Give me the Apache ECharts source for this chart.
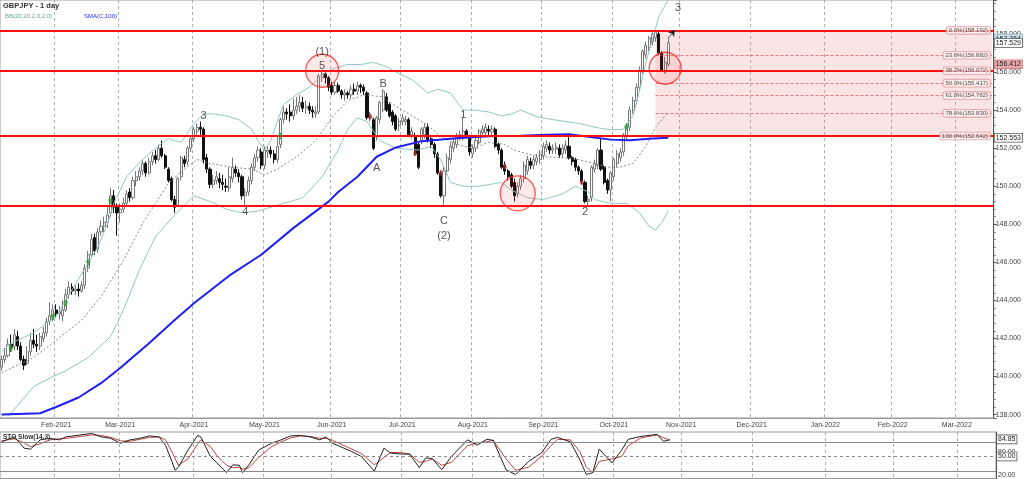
<!DOCTYPE html>
<html><head><meta charset="utf-8">
<script src="https://cdn.jsdelivr.net/npm/echarts/dist/echarts.min.js"></script>
<style>html,body{margin:0;padding:0;background:#fff}#c{width:1024px;height:479px}</style>
</head><body><div id="c"></div>
<script>
// ---------- DATA ----------
const startDate = '2021-01-07';
const categoryCount = 310;

const open = [140.5,140.9,141.1,141.7,141.6,142.1,141.6,140.9,140.7,141.3,141.9,141.7,141.6,142.0,142.3,142.9,143.1,143.5,143.3,143.2,
143.5,144.3,144.7,144.5,144.6,144.5,144.8,145.7,146.4,147.3,146.7,147.6,147.9,148.1,148.6,149.5,148.9,148.6,148.8,149.1,
149.7,149.4,150.3,150.5,150.8,151.2,150.7,151.3,151.6,151.4,152.0,151.6,150.9,150.4,149.3,149.0,150.5,151.4,151.3,152.0,
152.5,152.9,153.1,153.0,151.5,150.9,150.1,150.3,150.4,150.2,150.0,149.9,150.4,150.9,150.7,150.5,149.5,149.7,150.3,151.0,
151.5,151.8,151.1,151.8,151.9,151.7,151.4,152.2,153.5,153.9,153.9,153.7,154.0,154.2,154.4,154.1,154.2,154.0,153.8,153.9,
155.7,155.9,155.7,155.3,154.95,155.3,155.0,154.8,154.9,154.8,155.1,155.0,155.3,155.2,154.9,153.6,153.5,152.6,153.5,154.0,
154.7,154.3,153.9,153.7,153.2,153.4,153.4,153.5,152.7,152.6,152.2,152.4,152.7,153.1,152.5,152.2,151.7,150.7,149.5,150.8,
151.4,152.0,152.2,152.6,152.5,152.9,152.6,151.7,152.0,152.3,152.8,152.8,153.0,152.85,153.0,152.2,151.9,151.1,150.8,150.6,
150.2,149.6,150.0,150.4,150.8,151.3,151.1,151.3,151.4,151.6,152.0,152.1,151.9,151.95,152.0,151.7,151.9,152.1,151.5,151.4,
151.0,150.8,150.2,149.2,149.4,150.9,151.1,151.9,151.0,150.3,149.8,150.5,151.2,151.5,151.8,152.6,153.1,154.0,154.5,155.2,
156.1,156.9,157.3,157.6,157.8,158.0,157.0,156.0,156.412];
const close = [140.9,141.1,141.7,141.5,142.2,141.6,140.9,140.6,141.3,141.9,141.7,141.6,142.1,142.3,142.9,143.2,143.5,143.3,143.4,143.5,
144.3,144.7,144.5,144.6,144.5,144.8,145.7,146.4,147.2,146.6,147.6,147.9,148.1,148.5,149.5,148.9,148.6,148.8,149.1,149.6,
149.4,150.3,150.5,150.8,151.2,150.7,151.3,151.6,151.4,152.0,151.6,151.0,150.3,149.3,148.9,150.4,151.5,151.2,152.0,152.5,
153.0,153.1,153.0,151.4,150.9,150.1,150.3,150.5,150.2,150.1,149.95,150.5,151.0,150.7,150.5,149.5,149.7,150.3,151.0,151.5,
151.9,151.1,151.9,151.9,151.7,151.4,152.1,153.5,153.9,153.8,153.7,154.0,154.2,154.4,154.1,154.2,154.0,153.9,153.9,155.8,
155.9,155.7,155.2,154.95,155.3,155.0,154.8,154.9,154.8,155.1,155.0,155.3,155.2,155.0,153.6,153.7,152.0,153.6,154.4,155.0,
154.0,153.7,153.4,153.0,153.4,153.6,153.5,152.7,152.9,151.7,151.0,153.0,153.1,152.4,152.2,151.7,150.7,149.5,150.8,151.5,
152.1,152.3,152.6,152.7,152.9,152.7,151.8,152.0,152.4,152.9,153.0,153.1,152.9,153.0,152.1,151.9,151.0,150.8,150.5,150.0,
149.5,150.0,150.4,151.1,151.4,151.1,151.4,151.5,151.7,152.1,152.2,151.9,152.0,152.05,151.65,152.0,152.15,151.5,151.3,151.0,
150.8,150.25,149.2,149.3,151.0,151.2,151.9,150.9,150.2,149.8,150.7,151.4,151.7,151.8,152.7,153.1,154.0,154.5,155.2,156.1,
157.1,157.4,157.8,158.0,158.1,157.0,156.1,156.5,157.529];
const low = [140.3,140.7,141.0,141.3,141.4,141.4,140.8,140.35,140.6,141.1,141.5,141.3,141.4,141.8,142.1,142.7,142.9,143.1,143.0,142.9,
143.4,144.1,144.3,144.3,144.2,144.4,144.6,145.5,146.3,146.4,146.5,147.4,147.6,147.8,148.4,148.6,147.4,148.1,148.6,148.9,
149.2,149.3,150.0,150.3,150.6,150.5,150.6,151.1,151.2,151.3,151.5,150.9,150.2,149.2,148.6,148.9,150.3,151.0,151.1,151.8,
152.3,152.7,152.7,151.2,150.7,149.9,149.9,150.1,149.9,149.8,149.7,149.7,150.2,150.5,150.2,149.3,149.0,149.5,150.1,150.8,
151.3,150.9,150.9,151.5,151.5,151.2,151.2,152.0,153.3,153.5,153.4,153.5,153.8,153.9,153.9,153.8,153.8,153.6,153.6,153.8,
155.5,155.4,155.0,154.8,154.8,154.9,154.6,154.5,154.6,154.6,154.8,154.8,154.9,154.8,153.5,153.4,151.9,152.4,153.3,153.9,
153.9,153.6,153.2,152.9,152.9,153.2,153.2,152.6,152.5,151.6,150.9,152.2,152.5,152.3,152.0,151.5,150.6,149.4,149.0,150.6,
151.2,151.8,152.0,152.4,152.4,152.5,151.6,151.5,151.8,152.2,152.6,152.6,152.7,152.7,152.0,151.7,150.9,150.6,150.3,149.9,
149.2,149.4,149.8,150.2,150.6,150.9,150.9,151.1,151.2,151.4,151.8,151.7,151.7,151.7,151.5,151.5,151.7,151.4,151.1,150.8,
150.6,150.1,149.1,149.0,149.2,150.7,150.9,150.8,150.1,149.6,149.2,150.3,151.0,151.3,151.6,152.4,152.9,153.8,154.3,155.0,
155.9,156.7,157.1,157.4,157.6,156.9,156.0,155.9,156.3];
const high = [141.1,141.5,142.0,142.2,142.5,142.4,141.8,141.1,141.6,142.3,142.5,142.2,142.3,142.6,143.1,143.9,143.8,143.8,143.7,144.0,
144.6,145.0,144.9,144.8,144.9,145.0,145.9,146.6,147.5,147.5,147.8,148.2,148.4,148.9,149.9,149.8,149.1,149.1,149.4,149.8,
149.9,150.5,150.8,151.0,151.4,151.3,151.5,151.8,151.9,152.2,152.4,151.7,151.0,150.5,149.5,150.5,151.6,151.6,152.1,152.6,
153.1,153.3,153.4,153.1,151.7,151.0,150.6,150.8,150.7,150.6,150.4,151.0,151.5,151.1,150.9,150.6,149.9,150.5,151.2,151.7,
152.1,152.0,152.1,152.1,152.1,151.9,152.6,153.6,154.2,154.1,154.3,154.6,154.7,154.8,154.7,154.5,154.4,154.2,154.2,155.9,
156.1,156.0,155.8,155.5,155.5,155.45,155.1,155.1,155.0,155.3,155.4,155.5,155.4,155.35,155.0,153.9,153.6,153.7,154.5,155.1,
154.9,154.4,154.0,153.8,153.6,153.8,153.7,153.6,153.1,152.8,152.3,153.1,153.3,153.3,152.6,152.3,151.8,150.8,151.0,151.7,
152.3,152.5,152.8,152.9,153.6,153.0,152.7,152.2,152.6,153.0,153.2,153.3,153.2,153.2,153.1,152.3,152.0,151.3,150.9,150.7,
150.4,150.2,150.6,151.3,151.6,151.5,151.6,151.7,151.9,152.3,152.4,152.3,152.2,152.3,152.2,152.2,152.4,152.7,151.6,151.5,
151.1,150.9,150.3,149.5,151.1,151.4,152.0,152.5,151.1,150.4,150.8,151.5,151.9,152.0,152.8,153.3,154.2,154.7,155.4,156.3,
157.2,157.6,157.9,158.1,158.192,158.1,157.1,156.8,157.764];

// indicators: [candle index, value]
const bbUpper = [[0,141.3],[3,141.75],[10,142.3],[14,142.8],[17,143.15],[20,144.0],[25,145.4],[30,146.8],[33,148.0],[35,149.1],[39,150.5],[44,151.4],[48,152.0],[52,152.5],[56,152.3],[60,153.3],[63,153.8],[66,153.8],[70,153.7],[74,153.5],[78,153.0],[80,152.4],[82,151.9],[84,152.4],[86,153.4],[88,154.3],[92,154.8],[96,155.2],[100,155.9],[104,156.2],[108,156.4],[112,156.4],[116,156.5],[120,156.3],[123,156.0],[128,155.6],[133,154.9],[136,155.1],[140,154.9],[144,154.0],[148,154.0],[152,153.9],[156,153.7],[159,153.8],[162,154.0],[167,153.65],[172,153.5],[176,153.4],[180,153.3],[185,153.1],[190,152.96],[194,153.0],[197,153.7],[199,155.0],[201,156.5],[203,157.7],[205,158.9],[207,159.5],[208,159.8]];
const bbMid = [[0,140.2],[10,141.0],[17,141.9],[25,142.97],[31,144.2],[38,146.1],[44,148.05],[48,149.1],[52,150.15],[57,150.9],[61,151.4],[65,151.2],[72,151.0],[78,150.9],[82,150.6],[86,150.9],[92,151.55],[98,152.4],[103,153.6],[108,154.5],[113,154.8],[119,154.7],[123,154.2],[128,153.7],[133,153.2],[137,152.6],[142,152.2],[147,152.0],[152,152.3],[157,152.2],[160,151.9],[164,151.7],[169,151.55],[175,151.5],[180,151.4],[185,151.2],[189,151.0],[193,151.0],[197,151.2],[201,152.1],[204,153.1],[208,153.9]];
const bbLower = [[2,137.9],[10,139.47],[16,140.0],[20,140.3],[27,141.0],[34,142.1],[38,143.5],[43,145.6],[48,147.35],[54,148.5],[60,149.5],[65,149.2],[70,148.8],[75,148.6],[80,148.7],[86,149.0],[94,149.4],[100,150.5],[105,151.9],[108,153.0],[111,153.6],[114,153.4],[118,152.4],[123,152.0],[130,151.9],[134,152.1],[137,151.4],[140,150.2],[144,150.0],[149,150.0],[156,150.2],[159,149.8],[164,149.4],[169,149.3],[175,149.6],[179,150.0],[183,149.7],[185,149.3],[190,149.1],[195,149.1],[199,148.6],[202,147.9],[204,147.7],[206,148.1],[208,148.7]];
const sma100 = [[0,138.0],[12,138.07],[17,138.4],[24,138.9],[31,139.65],[37,140.45],[46,141.75],[54,142.97],[60,143.85],[71,145.3],[81,146.4],[91,147.8],[102,149.19],[105,149.7],[111,150.5],[117,151.55],[123,152.04],[131,152.37],[139,152.48],[146,152.57],[154,152.64],[162,152.66],[170,152.7],[177,152.73],[183,152.6],[190,152.45],[196,152.42],[202,152.5],[208,152.55]];

const stochK = [[0,80],[4,90],[7,67],[9,65],[12,84],[15,87],[18,84],[20,90],[28,97],[31,90],[34,87],[37,77],[40,84],[43,87],[46,92],[49,90],[51,73],[53,40],[54,22],[55,28],[58,63],[61,93],[62,90],[65,50],[67,37],[70,17],[72,33],[74,32],[75,17],[77,33],[80,63],[84,77],[87,84],[90,92],[93,93],[96,90],[99,84],[101,90],[103,77],[109,60],[112,50],[116,20],[119,67],[121,57],[124,55],[127,55],[130,27],[132,47],[134,46],[137,23],[140,50],[145,84],[148,73],[151,85],[153,83],[157,23],[160,13],[164,40],[168,57],[171,85],[173,89],[177,80],[180,43],[182,13],[184,17],[186,65],[190,37],[193,63],[195,85],[199,91],[204,95],[206,81],[208,84]];
const stochD = [[0,82],[4,86],[7,78],[9,70],[12,76],[15,84],[18,86],[20,87],[28,94],[31,93],[34,89],[37,82],[40,81],[43,85],[46,89],[49,90],[51,84],[53,60],[55,32],[58,45],[61,75],[62,84],[65,70],[67,52],[70,32],[72,27],[74,28],[75,24],[77,27],[80,48],[84,70],[87,80],[90,88],[93,92],[96,91],[99,87],[101,87],[103,83],[109,65],[112,56],[116,33],[119,48],[121,58],[124,58],[127,55],[130,38],[132,40],[134,45],[137,32],[140,38],[145,72],[148,78],[151,80],[153,83],[157,45],[160,22],[164,28],[168,50],[171,72],[173,85],[177,84],[180,60],[182,28],[184,17],[186,40],[190,45],[193,50],[195,72],[199,88],[204,94],[206,88],[208,84]];

const levelLines = [158.192, 156.072, 152.642, 148.98];
const fibLevels = [158.192, 156.882, 156.072, 155.417, 154.762, 153.830, 152.642];
const fibNames = ['0.0%(158.192)','23.6%(156.882)','38.2%(156.072)','50.0%(155.417)','61.8%(154.762)','78.6%(153.830)','100.0%(152.642)'];
const fibStart = 204;

const greenSignals = [[3,141.5],[16,143.15],[20,143.86],[27,146.0],[34,149.24],[87,152.66],[195,153.13]];
const redSignals = [[115,153.65],[129,151.73],[137,150.68],[157,151.03],[181,150.2]];
const circles = [[100,156.07,33],[207,156.2,32],[161,149.63,35]];
const waveLabels = [['(1)',100,157.05],['5',100,156.32],['3',63,153.7],['4',76,148.65],['B',119,155.4],['A',117,150.95],['C',138,148.17],['(2)',138,147.4],['1',144,153.74],['2',182,148.65],['3',211,159.37]];

const priceBoxes = [['157.764',157.764,'#cfe6f2','#8ab'],['157.529',157.529,'#ffffff','#555'],['156.412',156.412,'#eaa9ad','#c77'],['152.553',152.553,'#ffffff','#555']];
const stochBoxes = [['84.85',84.85],['50.00',50]];
const MONTHS = ['Jan','Feb','Mar','Apr','May','Jun','Jul','Aug','Sep','Oct','Nov','Dec'];

// ---------- BUILD ----------
const categories = [];
(function(){
  const p = startDate.split('-').map(Number);
  const d = new Date(Date.UTC(p[0], p[1]-1, p[2]));
  while (categories.length < categoryCount) {
    const wd = d.getUTCDay();
    if (wd !== 0 && wd !== 6) categories.push(d.toISOString().slice(0,10));
    d.setUTCDate(d.getUTCDate()+1);
  }
})();
function isMonthStart(i){ return i > 0 && categories[i].slice(0,7) !== categories[i-1].slice(0,7); }
function monthLabel(v){ return MONTHS[+v.slice(5,7)-1] + '-' + v.slice(0,4); }

const ohlc = open.map((o,i)=>[o, close[i], low[i], high[i]]);
const FONT = '"Liberation Sans", Arial, sans-serif';
const last = categoryCount - 1;
const HIDDEN = {color:'rgba(0,0,0,0)', width:0};
const boxLabel = (txt, bg, bd) => ({show:true, position:'end', distance:1, formatter:txt, fontSize:7, color:'#222',
  fontFamily:FONT, backgroundColor:bg, borderColor:bd, borderWidth:0.8, padding:[1,1,0,1]});

const xBase = {
  type:'category', data:categories, boundaryGap:true,
  axisTick:{show:false},
  splitLine:{show:true, interval:(i)=>isMonthStart(i), lineStyle:{color:'#b0b0b0', type:[3,3], width:1}}
};

const chart = echarts.init(document.getElementById('c'), null, {renderer:'canvas', width:1024, height:479});
chart.setOption({
  animation:false,
  backgroundColor:'#ffffff',
  textStyle:{fontFamily:FONT},
  title:[
    {text:'GBPJPY - 1 day', left:3, top:2, padding:0, textStyle:{fontSize:7.5, fontWeight:'bold', color:'#333', fontFamily:FONT}},
    {text:'BB(20,20,2.0,2.0)', left:5, top:13, padding:0, textStyle:{fontSize:6, fontWeight:'normal', color:'#6aa6a6', fontFamily:FONT}},
    {text:'SMA(C,100)', left:84, top:13, padding:0, textStyle:{fontSize:6, fontWeight:'normal', color:'#2b2bee', fontFamily:FONT}},
    {text:'STO Slow(14,3)', left:3, top:434, padding:0, textStyle:{fontSize:6.5, fontWeight:'bold', color:'#333', fontFamily:FONT}}
  ],
  grid:[
    {left:0, right:28, top:0, height:418, show:true, borderColor:'#9a9a9a', borderWidth:1, backgroundColor:'transparent'},
    {left:0, right:28, top:432, height:46.5, show:true, borderColor:'#9a9a9a', borderWidth:1, backgroundColor:'transparent'}
  ],
  xAxis:[
    Object.assign({}, xBase, {gridIndex:0,
      axisLine:{show:true, lineStyle:{color:'#999'}},
      axisLabel:{show:true, interval:(i)=>isMonthStart(i), formatter:monthLabel, fontSize:7, color:'#444', margin:4, fontFamily:FONT}}),
    Object.assign({}, xBase, {gridIndex:1, axisLine:{show:false}, axisLabel:{show:false}})
  ],
  yAxis:[
    {type:'value', gridIndex:0, position:'right', min:137.822, max:159.787, splitNumber:11,
     axisLine:{show:true, lineStyle:{color:'#555'}},
     axisTick:{show:true, length:3, lineStyle:{color:'#555'}},
     minorTick:{show:true, splitNumber:5, length:2, lineStyle:{color:'#777'}},
     splitLine:{show:false},
     axisLabel:{show:true, fontSize:7, color:'#444', margin:2, fontFamily:FONT, showMinLabel:false, showMaxLabel:false,
       formatter:(v)=>v.toFixed(3)}},
    {type:'value', gridIndex:1, position:'right', min:5, max:100,
     axisLine:{show:true, lineStyle:{color:'#555'}}, axisTick:{show:false}, axisLabel:{show:false}, splitLine:{show:false}}
  ],
  series:[
    {
      type:'candlestick', xAxisIndex:0, yAxisIndex:0, data:ohlc, barWidth:2.6,
      itemStyle:{color:'#ffffff', color0:'#111111', borderColor:'#777777', borderColor0:'#111111', borderWidth:1},
      markArea:{silent:true, itemStyle:{color:'rgba(232,120,120,0.2)'},
        data:[[{coord:[categories[fibStart], fibLevels[0]]},{coord:[categories[last], fibLevels[6]]}]]},
      markLine:{silent:true, symbol:['none','none'], label:{show:false},
        data: levelLines.map(v=>({yAxis:v, lineStyle:{color:'#ff1010', width:2, type:'solid'}}))
          .concat([1,3,4,5].map(k=>[
            {coord:[categories[fibStart], fibLevels[k]], lineStyle:{color:'rgba(215,70,70,0.7)', width:1, type:[3,2]}},
            {coord:[categories[last], fibLevels[k]]}]))
      },
      z:2
    },
    {type:'line', xAxisIndex:0, yAxisIndex:0, data:bbUpper, symbol:'none', lineStyle:{color:'#93c4c4', width:1}, z:3},
    {type:'line', xAxisIndex:0, yAxisIndex:0, data:bbLower, symbol:'none', lineStyle:{color:'#93c4c4', width:1}, z:3},
    {type:'line', xAxisIndex:0, yAxisIndex:0, data:bbMid, symbol:'none', lineStyle:{color:'#8a8a8a', width:1, type:[2,2]}, z:3},
    {type:'line', xAxisIndex:0, yAxisIndex:0, data:sma100, symbol:'none', lineStyle:{color:'#1f1ff2', width:2}, z:4,
      markLine:{silent:true, symbol:['none','none'],
        data: priceBoxes.map(b=>({yAxis:b[1], lineStyle:HIDDEN, label:boxLabel(b[0], b[2], b[3])}))}},
    {type:'scatter', xAxisIndex:0, yAxisIndex:0, data:greenSignals, z:5,
      symbol:'path://M5,0 L10,5 L7,5 L7,10 L3,10 L3,5 L0,5 Z', symbolSize:[6,7], itemStyle:{color:'#2f9a2f'}},
    {type:'scatter', xAxisIndex:0, yAxisIndex:0, data:redSignals, z:5,
      symbol:'path://M3,0 L7,0 L7,5 L10,5 L5,10 L0,5 L3,5 Z', symbolSize:[5,6], itemStyle:{color:'#b52525'}},
    {type:'scatter', xAxisIndex:0, yAxisIndex:0, z:6,
      data:circles.map(c=>({value:[c[0],c[1]], symbolSize:c[2]})),
      symbol:'circle', itemStyle:{color:'rgba(255,40,40,0.13)', borderColor:'#ff2a2a', borderWidth:1.3}},
    {type:'scatter', xAxisIndex:0, yAxisIndex:0, z:7, symbolSize:0,
      data:waveLabels.map(w=>({name:w[0], value:[w[1],w[2]]})),
      label:{show:true, position:'inside', formatter:(p)=>p.name, fontSize:11, color:'#2a2a2a', fontFamily:FONT}},
    {type:'scatter', xAxisIndex:0, yAxisIndex:0, z:7, symbolSize:0,
      data:fibLevels.map((v,k)=>({name:fibNames[k], value:[last, v]})),
      label:{show:true, position:'left', distance:2, formatter:(p)=>p.name, fontSize:6, color:'#222', fontFamily:FONT,
        backgroundColor:'rgba(255,246,246,0.95)', borderColor:'#e08e8e', borderWidth:0.8, borderRadius:2, padding:[1,2,0,2]}},
    {type:'line', xAxisIndex:0, yAxisIndex:0, data:[], z:7,
      markLine:{silent:true, label:{show:false}, symbolSize:6,
        data:[[{coord:[categories[208],157.79], symbol:'none'},{coord:[categories[210],158.21], symbol:'arrow'}]],
        lineStyle:{color:'#222', width:1, type:[2,1]}}},
    {type:'line', xAxisIndex:1, yAxisIndex:1, data:stochD, symbol:'none', lineStyle:{color:'#c04444', width:1}, z:3},
    {type:'line', xAxisIndex:1, yAxisIndex:1, data:stochK, symbol:'none', lineStyle:{color:'#222', width:1}, z:4,
      markLine:{silent:true, symbol:['none','none'],
        data:[
          {yAxis:80, lineStyle:{color:'#8a8a8a', width:1, type:'solid'}, label:{show:true, position:'end', distance:2, formatter:'80.00', offset:[0,10], fontSize:7, color:'#444'}},
          {yAxis:20, lineStyle:{color:'#8a8a8a', width:1, type:'solid'}, label:{show:true, position:'end', distance:2, formatter:'20.00', offset:[0,4], fontSize:7, color:'#444'}},
          {yAxis:50, lineStyle:{color:'#8a8a8a', width:1, type:[3,3]}, label:{show:false}}
        ].concat(stochBoxes.map(b=>({yAxis:b[1], lineStyle:HIDDEN, label:boxLabel(b[0], '#ffffff', '#555')})))}}
  ]
});
</script>
</body></html>
